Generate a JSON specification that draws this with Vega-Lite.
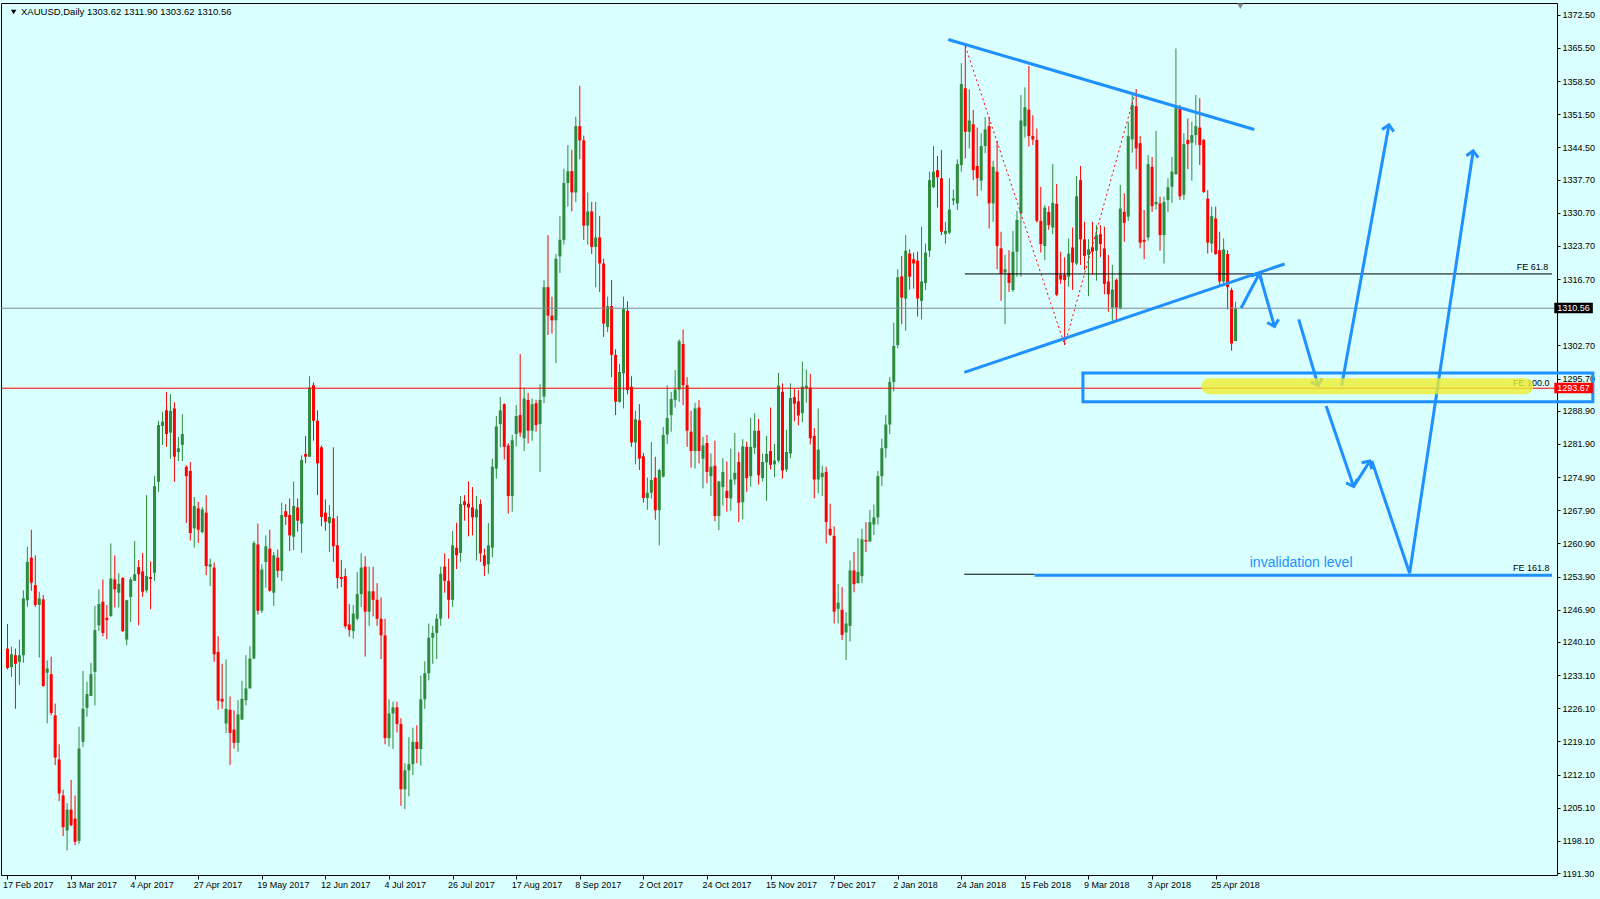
{
"$schema": "https://vega.github.io/schema/vega-lite/v6.json",
"width": 1556, "height": 872,
"autosize": {"type": "none"},
"padding": {"left": 1, "top": 3, "right": 43, "bottom": 24},
"background": "#d9ffff",
"config": {"view": {"stroke": "#000000", "strokeWidth": 1, "fill": "#d9ffff"}, "font": "Liberation Sans",
  "axisX": {"labelAlign": "left", "labelOffset": -5, "labelFontSize": 9, "labelFont": "Liberation Sans", "labelColor": "#000000", "tickColor": "#000000", "tickSize": 4, "domain": false, "grid": false, "labelPadding": 1, "labelFlush": false, "labelOverlap": false, "labelBound": false},
  "axisY": {"labelFontSize": 9, "labelFont": "Liberation Sans", "labelColor": "#000000", "tickColor": "#000000", "tickSize": 3, "domain": false, "grid": false, "labelPadding": 2, "labelOverlap": false, "labelFlush": false}},
"datasets": {
"bars": [
{"i":0,"o":1238.7,"h":1243.9,"l":1234.3,"c":1234.6},{"i":1,"o":1234.8,"h":1239.1,"l":1232.7,"c":1237.5},{"i":2,"o":1237.3,"h":1238.7,"l":1226.0,"c":1235.5},{"i":3,"o":1235.9,"h":1240.6,"l":1231.0,"c":1237.3},{"i":4,"o":1237.3,"h":1251.0,"l":1235.7,"c":1249.3},{"i":5,"o":1248.9,"h":1260.2,"l":1247.5,"c":1257.0},{"i":6,"o":1257.9,"h":1263.8,"l":1250.9,"c":1252.6},{"i":7,"o":1252.1,"h":1258.4,"l":1247.5,"c":1247.9},{"i":8,"o":1247.9,"h":1250.7,"l":1236.8,"c":1249.3},{"i":9,"o":1249.1,"h":1250.0,"l":1230.6,"c":1230.8},
{"i":10,"o":1233.6,"h":1236.2,"l":1222.9,"c":1234.5},{"i":11,"o":1233.3,"h":1237.0,"l":1224.6,"c":1225.1},{"i":12,"o":1224.6,"h":1227.1,"l":1214.1,"c":1215.7},{"i":13,"o":1215.3,"h":1218.5,"l":1206.5,"c":1208.1},{"i":14,"o":1207.7,"h":1208.9,"l":1199.1,"c":1201.0},{"i":15,"o":1200.3,"h":1206.1,"l":1196.1,"c":1204.7},{"i":16,"o":1204.7,"h":1211.0,"l":1201.2,"c":1201.4},{"i":17,"o":1202.8,"h":1207.7,"l":1197.2,"c":1197.9},{"i":18,"o":1198.1,"h":1222.2,"l":1197.5,"c":1217.6},{"i":19,"o":1219.0,"h":1234.0,"l":1217.9,"c":1226.0},
{"i":20,"o":1226.2,"h":1231.7,"l":1224.3,"c":1229.1},{"i":21,"o":1228.7,"h":1235.7,"l":1228.7,"c":1233.3},{"i":22,"o":1233.8,"h":1247.7,"l":1226.7,"c":1242.6},{"i":23,"o":1243.6,"h":1251.2,"l":1242.4,"c":1248.1},{"i":24,"o":1248.6,"h":1253.3,"l":1241.3,"c":1242.0},{"i":25,"o":1245.2,"h":1247.9,"l":1240.7,"c":1244.7},{"i":26,"o":1245.6,"h":1260.9,"l":1245.4,"c":1253.5},{"i":27,"o":1253.3,"h":1258.4,"l":1247.4,"c":1251.2},{"i":28,"o":1250.5,"h":1254.6,"l":1247.4,"c":1252.4},{"i":29,"o":1253.6,"h":1253.8,"l":1242.2,"c":1242.4},
{"i":30,"o":1240.6,"h":1249.0,"l":1239.4,"c":1248.9},{"i":31,"o":1249.6,"h":1253.8,"l":1244.3,"c":1253.3},{"i":32,"o":1253.0,"h":1261.4,"l":1253.0,"c":1254.4},{"i":33,"o":1255.9,"h":1257.4,"l":1243.6,"c":1254.4},{"i":34,"o":1255.0,"h":1258.9,"l":1249.6,"c":1250.7},{"i":35,"o":1251.0,"h":1271.1,"l":1250.5,"c":1254.0},{"i":36,"o":1253.8,"h":1257.1,"l":1247.0,"c":1253.4},{"i":37,"o":1254.7,"h":1275.1,"l":1253.0,"c":1273.0},{"i":38,"o":1273.9,"h":1286.8,"l":1271.8,"c":1285.9},{"i":39,"o":1285.7,"h":1288.7,"l":1281.7,"c":1286.6},
{"i":40,"o":1289.0,"h":1292.9,"l":1281.3,"c":1284.0},{"i":41,"o":1284.3,"h":1292.4,"l":1278.8,"c":1288.9},{"i":42,"o":1289.4,"h":1290.7,"l":1273.9,"c":1279.2},{"i":43,"o":1280.2,"h":1283.4,"l":1278.3,"c":1281.0},{"i":44,"o":1281.7,"h":1288.2,"l":1278.3,"c":1284.0},{"i":45,"o":1277.1,"h":1277.4,"l":1265.2,"c":1275.1},{"i":46,"o":1276.2,"h":1278.1,"l":1261.5,"c":1263.1},{"i":47,"o":1264.1,"h":1270.7,"l":1260.0,"c":1268.8},{"i":48,"o":1268.3,"h":1269.7,"l":1261.0,"c":1263.8},{"i":49,"o":1263.3,"h":1268.6,"l":1263.0,"c":1268.1},
{"i":50,"o":1267.4,"h":1271.1,"l":1254.2,"c":1256.1},{"i":51,"o":1256.0,"h":1257.7,"l":1251.9,"c":1256.5},{"i":52,"o":1255.8,"h":1256.9,"l":1235.9,"c":1237.5},{"i":53,"o":1238.0,"h":1241.3,"l":1225.8,"c":1227.7},{"i":54,"o":1228.1,"h":1235.5,"l":1226.0,"c":1227.5},{"i":55,"o":1222.9,"h":1236.4,"l":1220.9,"c":1226.0},{"i":56,"o":1225.8,"h":1228.6,"l":1214.1,"c":1220.9},{"i":57,"o":1221.6,"h":1225.7,"l":1217.6,"c":1218.8},{"i":58,"o":1218.8,"h":1227.8,"l":1216.9,"c":1224.8},{"i":59,"o":1223.7,"h":1231.9,"l":1223.7,"c":1228.1},
{"i":60,"o":1227.8,"h":1237.3,"l":1226.7,"c":1230.3},{"i":61,"o":1230.3,"h":1239.2,"l":1230.3,"c":1236.6},{"i":62,"o":1236.6,"h":1261.4,"l":1236.5,"c":1261.0},{"i":63,"o":1260.7,"h":1265.1,"l":1245.9,"c":1246.7},{"i":64,"o":1246.7,"h":1256.5,"l":1246.2,"c":1255.4},{"i":65,"o":1257.0,"h":1262.6,"l":1251.6,"c":1260.3},{"i":66,"o":1259.8,"h":1263.8,"l":1250.7,"c":1250.9},{"i":67,"o":1250.5,"h":1259.1,"l":1247.7,"c":1258.4},{"i":68,"o":1257.9,"h":1259.6,"l":1253.7,"c":1255.1},{"i":69,"o":1255.1,"h":1269.5,"l":1253.0,"c":1266.9},
{"i":70,"o":1267.7,"h":1269.2,"l":1264.8,"c":1266.5},{"i":71,"o":1266.9,"h":1270.4,"l":1259.3,"c":1262.6},{"i":72,"o":1262.3,"h":1274.0,"l":1259.5,"c":1268.8},{"i":73,"o":1268.5,"h":1270.4,"l":1263.4,"c":1265.7},{"i":74,"o":1265.1,"h":1279.5,"l":1258.9,"c":1278.5},{"i":75,"o":1279.8,"h":1283.6,"l":1277.8,"c":1279.2},{"i":76,"o":1279.2,"h":1296.2,"l":1279.2,"c":1293.8},{"i":77,"o":1294.3,"h":1294.9,"l":1282.6,"c":1286.8},{"i":78,"o":1286.8,"h":1289.0,"l":1271.1,"c":1277.8},{"i":79,"o":1281.2,"h":1281.6,"l":1264.5,"c":1266.5},
{"i":80,"o":1267.4,"h":1270.2,"l":1263.6,"c":1265.5},{"i":81,"o":1265.2,"h":1269.0,"l":1259.1,"c":1266.5},{"i":82,"o":1266.2,"h":1281.2,"l":1257.0,"c":1260.3},{"i":83,"o":1260.5,"h":1266.7,"l":1251.4,"c":1253.6},{"i":84,"o":1253.8,"h":1257.4,"l":1251.7,"c":1253.4},{"i":85,"o":1254.0,"h":1255.6,"l":1242.9,"c":1243.4},{"i":86,"o":1243.8,"h":1248.1,"l":1241.2,"c":1242.6},{"i":87,"o":1242.4,"h":1247.9,"l":1240.8,"c":1246.1},{"i":88,"o":1245.0,"h":1254.9,"l":1244.7,"c":1250.2},{"i":89,"o":1250.2,"h":1258.8,"l":1247.5,"c":1255.8},
{"i":90,"o":1256.0,"h":1258.2,"l":1237.0,"c":1246.5},{"i":91,"o":1246.5,"h":1256.0,"l":1243.5,"c":1250.8},{"i":92,"o":1250.8,"h":1256.0,"l":1245.5,"c":1249.0},{"i":93,"o":1249.0,"h":1252.5,"l":1243.5,"c":1245.0},{"i":94,"o":1245.0,"h":1249.5,"l":1236.5,"c":1241.5},{"i":95,"o":1241.5,"h":1245.0,"l":1218.5,"c":1219.8},{"i":96,"o":1219.8,"h":1228.0,"l":1218.0,"c":1225.0},{"i":97,"o":1225.0,"h":1227.5,"l":1217.5,"c":1226.3},{"i":98,"o":1226.3,"h":1227.5,"l":1221.0,"c":1222.8},{"i":99,"o":1222.8,"h":1224.0,"l":1205.5,"c":1209.0},
{"i":100,"o":1209.0,"h":1214.5,"l":1204.8,"c":1213.0},{"i":101,"o":1213.0,"h":1220.0,"l":1207.5,"c":1214.3},{"i":102,"o":1214.3,"h":1222.0,"l":1212.0,"c":1219.0},{"i":103,"o":1219.0,"h":1222.5,"l":1214.5,"c":1217.5},{"i":104,"o":1217.5,"h":1233.0,"l":1214.0,"c":1228.0},{"i":105,"o":1228.0,"h":1236.0,"l":1226.0,"c":1233.5},{"i":106,"o":1233.5,"h":1244.0,"l":1232.0,"c":1241.0},{"i":107,"o":1241.0,"h":1243.5,"l":1235.5,"c":1242.0},{"i":108,"o":1242.0,"h":1246.0,"l":1236.5,"c":1245.0},{"i":109,"o":1245.0,"h":1256.0,"l":1243.5,"c":1254.5},
{"i":110,"o":1256.0,"h":1258.8,"l":1250.5,"c":1253.0},{"i":111,"o":1253.0,"h":1257.7,"l":1245.0,"c":1249.0},{"i":112,"o":1249.0,"h":1263.5,"l":1247.5,"c":1260.5},{"i":113,"o":1260.0,"h":1265.3,"l":1255.5,"c":1258.4},{"i":114,"o":1258.9,"h":1270.9,"l":1257.0,"c":1269.2},{"i":115,"o":1269.8,"h":1271.1,"l":1265.7,"c":1269.0},{"i":116,"o":1269.3,"h":1274.0,"l":1262.4,"c":1268.5},{"i":117,"o":1268.5,"h":1272.8,"l":1262.6,"c":1266.4},{"i":118,"o":1266.4,"h":1270.9,"l":1257.3,"c":1268.1},{"i":119,"o":1269.2,"h":1270.2,"l":1257.0,"c":1258.8},
{"i":120,"o":1258.4,"h":1259.8,"l":1254.0,"c":1256.2},{"i":121,"o":1256.5,"h":1265.2,"l":1254.5,"c":1260.5},{"i":122,"o":1260.0,"h":1278.8,"l":1258.0,"c":1277.1},{"i":123,"o":1276.7,"h":1287.8,"l":1274.6,"c":1285.6},{"i":124,"o":1286.1,"h":1291.8,"l":1281.2,"c":1289.0},{"i":125,"o":1290.3,"h":1290.5,"l":1278.6,"c":1281.3},{"i":126,"o":1281.6,"h":1282.1,"l":1267.2,"c":1270.9},{"i":127,"o":1270.9,"h":1283.8,"l":1267.6,"c":1282.7},{"i":128,"o":1284.0,"h":1290.1,"l":1281.4,"c":1287.8},{"i":129,"o":1288.0,"h":1300.9,"l":1283.4,"c":1284.3},
{"i":130,"o":1283.1,"h":1293.8,"l":1280.4,"c":1291.5},{"i":131,"o":1291.2,"h":1292.7,"l":1282.0,"c":1284.7},{"i":132,"o":1284.7,"h":1291.5,"l":1282.6,"c":1290.3},{"i":133,"o":1290.5,"h":1291.2,"l":1284.5,"c":1285.9},{"i":134,"o":1286.1,"h":1294.5,"l":1276.0,"c":1291.2},{"i":135,"o":1291.9,"h":1316.5,"l":1290.5,"c":1315.0},{"i":136,"o":1315.0,"h":1326.0,"l":1304.9,"c":1309.0},{"i":137,"o":1309.0,"h":1313.0,"l":1305.2,"c":1308.0},{"i":138,"o":1308.0,"h":1322.0,"l":1299.0,"c":1321.0},{"i":139,"o":1321.5,"h":1330.0,"l":1318.0,"c":1325.0},
{"i":140,"o":1325.0,"h":1340.0,"l":1324.0,"c":1337.0},{"i":141,"o":1337.0,"h":1345.0,"l":1332.0,"c":1339.5},{"i":142,"o":1339.5,"h":1344.0,"l":1331.0,"c":1335.0},{"i":143,"o":1335.0,"h":1351.0,"l":1333.0,"c":1349.0},{"i":144,"o":1349.0,"h":1357.5,"l":1342.0,"c":1346.0},{"i":145,"o":1346.0,"h":1347.0,"l":1325.0,"c":1328.0},{"i":146,"o":1328.0,"h":1335.0,"l":1324.0,"c":1331.0},{"i":147,"o":1331.0,"h":1333.0,"l":1322.0,"c":1323.5},{"i":148,"o":1323.5,"h":1333.0,"l":1315.0,"c":1325.5},{"i":149,"o":1325.5,"h":1330.0,"l":1314.0,"c":1320.0},
{"i":150,"o":1320.0,"h":1321.0,"l":1304.5,"c":1307.3},{"i":151,"o":1306.6,"h":1313.0,"l":1305.5,"c":1311.0},{"i":152,"o":1311.0,"h":1316.5,"l":1296.0,"c":1300.7},{"i":153,"o":1300.7,"h":1301.9,"l":1288.0,"c":1290.8},{"i":154,"o":1290.8,"h":1298.8,"l":1290.6,"c":1297.1},{"i":155,"o":1296.8,"h":1313.0,"l":1289.4,"c":1310.5},{"i":156,"o":1310.0,"h":1312.0,"l":1292.4,"c":1293.3},{"i":157,"o":1294.0,"h":1296.2,"l":1281.3,"c":1282.2},{"i":158,"o":1282.2,"h":1288.9,"l":1277.6,"c":1287.1},{"i":159,"o":1286.9,"h":1290.3,"l":1276.4,"c":1278.8},
{"i":160,"o":1279.3,"h":1280.0,"l":1269.5,"c":1270.5},{"i":161,"o":1270.5,"h":1274.8,"l":1268.0,"c":1271.6},{"i":162,"o":1271.6,"h":1282.3,"l":1270.4,"c":1274.3},{"i":163,"o":1274.8,"h":1279.2,"l":1265.9,"c":1267.9},{"i":164,"o":1267.9,"h":1276.7,"l":1260.5,"c":1276.4},{"i":165,"o":1275.0,"h":1285.5,"l":1274.8,"c":1283.8},{"i":166,"o":1283.9,"h":1294.3,"l":1281.9,"c":1287.4},{"i":167,"o":1288.0,"h":1292.9,"l":1284.5,"c":1291.4},{"i":168,"o":1291.2,"h":1297.5,"l":1289.6,"c":1293.4},{"i":169,"o":1293.4,"h":1304.0,"l":1290.8,"c":1303.6},
{"i":170,"o":1303.0,"h":1306.1,"l":1290.1,"c":1294.3},{"i":171,"o":1294.3,"h":1296.0,"l":1281.3,"c":1284.7},{"i":172,"o":1284.5,"h":1288.9,"l":1276.9,"c":1280.4},{"i":173,"o":1280.4,"h":1290.6,"l":1276.7,"c":1289.4},{"i":174,"o":1289.6,"h":1291.2,"l":1277.8,"c":1280.4},{"i":175,"o":1278.8,"h":1283.4,"l":1272.5,"c":1281.6},{"i":176,"o":1282.1,"h":1283.8,"l":1273.6,"c":1276.0},{"i":177,"o":1275.1,"h":1279.9,"l":1270.9,"c":1277.1},{"i":178,"o":1277.3,"h":1282.6,"l":1265.6,"c":1266.7},{"i":179,"o":1266.7,"h":1274.1,"l":1263.7,"c":1274.0},
{"i":180,"o":1272.8,"h":1278.9,"l":1268.9,"c":1276.0},{"i":181,"o":1272.0,"h":1278.2,"l":1267.6,"c":1270.5},{"i":182,"o":1270.4,"h":1280.9,"l":1267.8,"c":1274.4},{"i":183,"o":1274.4,"h":1284.2,"l":1273.3,"c":1275.8},{"i":184,"o":1278.1,"h":1280.2,"l":1265.4,"c":1269.5},{"i":185,"o":1269.6,"h":1282.9,"l":1266.0,"c":1281.4},{"i":186,"o":1281.3,"h":1282.4,"l":1271.8,"c":1274.7},{"i":187,"o":1275.1,"h":1287.4,"l":1272.9,"c":1281.3},{"i":188,"o":1281.1,"h":1288.4,"l":1279.8,"c":1284.7},{"i":189,"o":1284.7,"h":1287.2,"l":1273.3,"c":1275.3},
{"i":190,"o":1274.7,"h":1279.9,"l":1274.0,"c":1278.1},{"i":191,"o":1278.0,"h":1283.6,"l":1269.9,"c":1279.8},{"i":192,"o":1280.4,"h":1289.6,"l":1276.5,"c":1277.5},{"i":193,"o":1277.6,"h":1281.9,"l":1274.9,"c":1278.4},{"i":194,"o":1278.4,"h":1296.9,"l":1278.0,"c":1294.2},{"i":195,"o":1292.9,"h":1294.7,"l":1274.6,"c":1276.3},{"i":196,"o":1276.5,"h":1284.9,"l":1276.0,"c":1280.2},{"i":197,"o":1279.9,"h":1294.7,"l":1278.9,"c":1291.6},{"i":198,"o":1291.8,"h":1293.6,"l":1286.7,"c":1290.4},{"i":199,"o":1290.9,"h":1293.3,"l":1285.8,"c":1287.9},
{"i":200,"o":1288.4,"h":1299.3,"l":1286.5,"c":1294.0},{"i":201,"o":1293.6,"h":1297.6,"l":1290.6,"c":1294.2},{"i":202,"o":1293.8,"h":1296.7,"l":1281.8,"c":1283.1},{"i":203,"o":1283.6,"h":1285.3,"l":1270.4,"c":1274.4},{"i":204,"o":1274.4,"h":1289.4,"l":1271.5,"c":1280.7},{"i":205,"o":1274.9,"h":1277.3,"l":1270.9,"c":1275.8},{"i":206,"o":1276.0,"h":1277.1,"l":1260.9,"c":1265.4},{"i":207,"o":1264.0,"h":1269.3,"l":1262.5,"c":1262.7},{"i":208,"o":1262.5,"h":1264.5,"l":1244.0,"c":1246.5},{"i":209,"o":1247.1,"h":1252.3,"l":1244.0,"c":1248.4},
{"i":210,"o":1246.9,"h":1251.7,"l":1240.5,"c":1241.6},{"i":211,"o":1242.1,"h":1246.4,"l":1236.3,"c":1244.0},{"i":212,"o":1243.5,"h":1257.3,"l":1240.2,"c":1255.2},{"i":213,"o":1255.2,"h":1259.1,"l":1250.6,"c":1252.3},{"i":214,"o":1252.5,"h":1262.0,"l":1252.5,"c":1254.9},{"i":215,"o":1254.0,"h":1264.0,"l":1252.5,"c":1261.8},{"i":216,"o":1261.6,"h":1265.4,"l":1259.1,"c":1261.3},{"i":217,"o":1261.3,"h":1268.0,"l":1261.3,"c":1265.4},{"i":218,"o":1264.9,"h":1269.1,"l":1262.7,"c":1266.4},{"i":219,"o":1266.4,"h":1276.2,"l":1264.9,"c":1275.1},
{"i":220,"o":1275.1,"h":1283.0,"l":1273.0,"c":1281.0},{"i":221,"o":1281.0,"h":1288.0,"l":1279.0,"c":1286.0},{"i":222,"o":1286.0,"h":1296.0,"l":1284.0,"c":1295.0},{"i":223,"o":1295.0,"h":1307.5,"l":1293.0,"c":1302.6},{"i":224,"o":1302.8,"h":1318.8,"l":1302.1,"c":1317.1},{"i":225,"o":1317.3,"h":1321.6,"l":1307.2,"c":1312.8},{"i":226,"o":1312.6,"h":1326.0,"l":1305.8,"c":1322.7},{"i":227,"o":1322.1,"h":1323.0,"l":1314.5,"c":1317.2},{"i":228,"o":1320.9,"h":1322.3,"l":1314.7,"c":1320.0},{"i":229,"o":1320.6,"h":1322.5,"l":1308.8,"c":1312.6},
{"i":230,"o":1312.1,"h":1327.8,"l":1308.2,"c":1316.2},{"i":231,"o":1315.9,"h":1324.2,"l":1314.4,"c":1322.3},{"i":232,"o":1322.7,"h":1339.4,"l":1321.4,"c":1337.6},{"i":233,"o":1336.1,"h":1344.8,"l":1335.9,"c":1339.4},{"i":234,"o":1339.7,"h":1342.7,"l":1331.8,"c":1338.2},{"i":235,"o":1338.0,"h":1344.0,"l":1326.0,"c":1326.7},{"i":236,"o":1326.2,"h":1328.8,"l":1324.2,"c":1326.9},{"i":237,"o":1326.5,"h":1338.0,"l":1326.2,"c":1331.4},{"i":238,"o":1333.3,"h":1335.6,"l":1332.3,"c":1333.7},{"i":239,"o":1332.7,"h":1342.0,"l":1331.3,"c":1341.0},
{"i":240,"o":1340.8,"h":1362.3,"l":1339.4,"c":1357.9},{"i":241,"o":1357.0,"h":1365.9,"l":1342.2,"c":1347.8},{"i":242,"o":1347.8,"h":1356.8,"l":1344.3,"c":1350.2},{"i":243,"o":1349.4,"h":1352.4,"l":1337.6,"c":1339.7},{"i":244,"o":1340.6,"h":1348.7,"l":1334.2,"c":1338.0},{"i":245,"o":1337.5,"h":1347.5,"l":1335.4,"c":1344.8},{"i":246,"o":1344.8,"h":1350.9,"l":1343.3,"c":1348.3},{"i":247,"o":1349.0,"h":1351.0,"l":1327.4,"c":1332.7},{"i":248,"o":1332.7,"h":1341.7,"l":1328.8,"c":1340.4},{"i":249,"o":1339.4,"h":1345.9,"l":1318.8,"c":1323.7},
{"i":250,"o":1323.2,"h":1326.7,"l":1312.1,"c":1317.8},{"i":251,"o":1318.1,"h":1321.8,"l":1307.2,"c":1318.8},{"i":252,"o":1317.9,"h":1322.8,"l":1314.0,"c":1315.9},{"i":253,"o":1314.4,"h":1326.9,"l":1314.0,"c":1322.5},{"i":254,"o":1322.5,"h":1331.1,"l":1317.2,"c":1329.2},{"i":255,"o":1330.6,"h":1355.6,"l":1317.2,"c":1350.2},{"i":256,"o":1349.0,"h":1357.2,"l":1346.6,"c":1353.0},{"i":257,"o":1352.5,"h":1361.7,"l":1344.7,"c":1346.9},{"i":258,"o":1346.9,"h":1351.3,"l":1345.0,"c":1346.2},{"i":259,"o":1346.1,"h":1348.5,"l":1328.6,"c":1329.0},
{"i":260,"o":1329.0,"h":1336.2,"l":1322.3,"c":1324.1},{"i":261,"o":1323.7,"h":1332.3,"l":1320.7,"c":1331.8},{"i":262,"o":1330.9,"h":1332.1,"l":1327.1,"c":1328.1},{"i":263,"o":1327.6,"h":1341.0,"l":1326.2,"c":1332.8},{"i":264,"o":1332.6,"h":1336.8,"l":1313.1,"c":1313.4},{"i":265,"o":1317.6,"h":1322.5,"l":1315.7,"c":1316.6},{"i":266,"o":1317.6,"h":1321.3,"l":1302.8,"c":1316.5},{"i":267,"o":1317.2,"h":1325.3,"l":1315.1,"c":1322.1},{"i":268,"o":1323.4,"h":1327.6,"l":1314.4,"c":1320.2},{"i":269,"o":1320.0,"h":1338.5,"l":1319.7,"c":1334.2},
{"i":270,"o":1337.6,"h":1340.6,"l":1319.7,"c":1325.1},{"i":271,"o":1325.1,"h":1328.8,"l":1318.6,"c":1321.6},{"i":272,"o":1321.8,"h":1325.1,"l":1313.1,"c":1323.0},{"i":273,"o":1323.4,"h":1328.8,"l":1317.6,"c":1322.5},{"i":274,"o":1322.7,"h":1328.1,"l":1316.4,"c":1326.0},{"i":275,"o":1326.2,"h":1328.1,"l":1321.4,"c":1324.1},{"i":276,"o":1323.2,"h":1327.8,"l":1313.5,"c":1315.7},{"i":277,"o":1316.2,"h":1321.8,"l":1309.8,"c":1313.5},{"i":278,"o":1310.7,"h":1319.7,"l":1307.9,"c":1314.5},{"i":279,"o":1316.5,"h":1316.9,"l":1308.0,"c":1310.7},
{"i":280,"o":1310.5,"h":1336.6,"l":1310.3,"c":1331.6},{"i":281,"o":1330.9,"h":1334.8,"l":1324.6,"c":1328.6},{"i":282,"o":1329.9,"h":1349.9,"l":1329.0,"c":1346.9},{"i":283,"o":1346.2,"h":1355.9,"l":1343.4,"c":1353.5},{"i":284,"o":1353.2,"h":1356.8,"l":1339.9,"c":1344.3},{"i":285,"o":1345.4,"h":1346.9,"l":1323.2,"c":1324.4},{"i":286,"o":1325.0,"h":1331.3,"l":1320.9,"c":1324.6},{"i":287,"o":1325.5,"h":1342.9,"l":1324.8,"c":1341.0},{"i":288,"o":1340.4,"h":1342.5,"l":1330.9,"c":1332.1},{"i":289,"o":1332.5,"h":1348.0,"l":1331.4,"c":1333.0},
{"i":290,"o":1332.7,"h":1334.1,"l":1322.7,"c":1326.0},{"i":291,"o":1326.0,"h":1334.1,"l":1320.0,"c":1333.0},{"i":292,"o":1333.4,"h":1338.0,"l":1330.9,"c":1336.1},{"i":293,"o":1336.2,"h":1342.5,"l":1332.8,"c":1339.4},{"i":294,"o":1338.9,"h":1365.4,"l":1338.7,"c":1353.1},{"i":295,"o":1352.8,"h":1353.5,"l":1333.4,"c":1334.2},{"i":296,"o":1334.5,"h":1347.5,"l":1333.4,"c":1345.2},{"i":297,"o":1346.1,"h":1350.6,"l":1339.9,"c":1345.2},{"i":298,"o":1345.5,"h":1349.9,"l":1337.5,"c":1347.1},{"i":299,"o":1347.1,"h":1355.6,"l":1345.0,"c":1349.0},
{"i":300,"o":1348.7,"h":1354.9,"l":1340.8,"c":1345.0},{"i":301,"o":1346.1,"h":1346.3,"l":1334.9,"c":1335.1},{"i":302,"o":1333.7,"h":1335.5,"l":1322.1,"c":1324.4},{"i":303,"o":1324.2,"h":1332.0,"l":1322.3,"c":1330.0},{"i":304,"o":1329.5,"h":1332.0,"l":1321.8,"c":1322.0},{"i":305,"o":1322.8,"h":1326.7,"l":1315.1,"c":1316.2},{"i":306,"o":1316.2,"h":1325.3,"l":1315.8,"c":1323.0},{"i":307,"o":1322.0,"h":1322.8,"l":1310.3,"c":1315.0},{"i":308,"o":1314.4,"h":1314.9,"l":1301.6,"c":1303.1},{"i":309,"o":1303.62,"h":1311.9,"l":1303.62,"c":1310.56}
],
"segs": [
{"k":"trend","x1":236.7,"y1":1367.3,"x2":313.7,"y2":1348.3,"head":0},
{"k":"trend","x1":240.75,"y1":1297.0,"x2":321.35,"y2":1319.9,"head":0},
{"k":"trend","x1":258.4,"y1":1254.2,"x2":388.625,"y2":1254.2,"head":0},
{"k":"fe","x1":240.9,"y1":1317.8,"x2":388.625,"y2":1317.8,"head":0},
{"k":"fe","x1":240.75,"y1":1254.4,"x2":258.4,"y2":1254.4,"head":0},
{"k":"zig","x1":241,"y1":1365.9,"x2":266,"y2":1302.8,"head":0},
{"k":"zig","x1":266,"y1":1302.8,"x2":284,"y2":1356.8,"head":0},
{"k":"arrow","x1":310.4,"y1":1310.6,"x2":315.0,"y2":1317.9,"head":1},
{"k":"arrow","x1":315.0,"y1":1317.9,"x2":318.8,"y2":1306.7,"head":1},
{"k":"arrow","x1":324.9,"y1":1308.2,"x2":329.8,"y2":1294.2,"head":1},
{"k":"arrow","x1":335.7,"y1":1294.2,"x2":347.6,"y2":1349.3,"head":1},
{"k":"arrow","x1":331.8,"y1":1289.9,"x2":338.7,"y2":1272.9,"head":1},
{"k":"arrow","x1":338.7,"y1":1272.9,"x2":342.8,"y2":1278.3,"head":1},
{"k":"arrow","x1":343.3,"y1":1278.3,"x2":352.8,"y2":1254.6,"head":0},
{"k":"arrow","x1":352.8,"y1":1254.6,"x2":368.8,"y2":1343.8,"head":1}
]
},
"encoding": {
  "x": {"type": "quantitative", "scale": {"domain": [-0.375, 388.625], "nice": false, "zero": false},
        "axis": {"values": [0,16,32,48,64,80,96,112,128,144,160,176,192,208,224,240,256,272,288,304],
                 "labelExpr": "['17 Feb 2017','13 Mar 2017','4 Apr 2017','27 Apr 2017','19 May 2017','12 Jun 2017','4 Jul 2017','26 Jul 2017','17 Aug 2017','8 Sep 2017','2 Oct 2017','24 Oct 2017','15 Nov 2017','7 Dec 2017','2 Jan 2018','24 Jan 2018','15 Feb 2018','9 Mar 2018','3 Apr 2018','25 Apr 2018'][round(datum.value/16)]",
                 "title": null}},
  "y": {"type": "quantitative", "scale": {"domain": [1190.9, 1375.0], "nice": false, "zero": false},
        "axis": {"orient": "right", "values": [1372.5,1365.5,1358.5,1351.5,1344.5,1337.7,1330.7,1323.7,1316.7,1309.7,1302.7,1295.7,1288.9,1281.9,1274.9,1267.9,1260.9,1253.9,1246.9,1240.1,1233.1,1226.1,1219.1,1212.1,1205.1,1198.1,1191.3],
                 "labelExpr": "abs(datum.value - 1309.7) < 0.01 ? '' : format(datum.value, '.2f')", "title": null}}
},
"layer": [
{"data": {"name": "bars"},
 "mark": {"type": "rule", "strokeWidth": 1},
 "encoding": {
  "x": {"field": "i"},
  "y": {"field": "l"},
  "y2": {"field": "h"},
  "color": {"condition": {"test": "datum.c >= datum.o", "value": "#2e8b3d"}, "value": "#ff0000"}
 }},
{"data": {"name": "bars"},
 "mark": {"type": "bar", "size": 3},
 "encoding": {
  "x": {"field": "i"},
  "y": {"field": "o"},
  "y2": {"field": "c"},
  "color": {"condition": {"test": "datum.c >= datum.o", "value": "#2e8b3d"}, "value": "#ff0000"}
 }},
{"data": {"values": [{"p": 1293.67}]},
 "mark": {"type": "rule", "color": "#ff0000", "strokeWidth": 1},
 "encoding": {"x": null, "y": {"field": "p"}}},
{"data": {"values": [{"p": 1310.56}]},
 "mark": {"type": "rule", "color": "#7f8894", "strokeWidth": 1},
 "encoding": {"x": null, "y": {"field": "p"}}},
{"data": {"name": "segs"}, "transform": [{"filter": "datum.k == 'fe'"}],
 "mark": {"type": "rule", "color": "#000000", "strokeWidth": 1},
 "encoding": {"x": {"field": "x1"}, "y": {"field": "y1"}, "x2": {"field": "x2"}, "y2": {"field": "y2"}}},
{"data": {"name": "segs"}, "transform": [{"filter": "datum.k == 'zig'"}],
 "mark": {"type": "rule", "color": "#ff0000", "strokeWidth": 1, "strokeDash": [2, 3]},
 "encoding": {"x": {"field": "x1"}, "y": {"field": "y1"}, "x2": {"field": "x2"}, "y2": {"field": "y2"}}},
{"data": {"values": [{"x1": 270.6, "x2": 398.9, "y1": 1296.9, "y2": 1290.8}]},
 "mark": {"type": "rect", "fillOpacity": 0, "stroke": "#1e90ff", "strokeWidth": 3, "clip": false},
 "encoding": {"x": {"field": "x1"}, "y": {"field": "y1"}, "x2": {"field": "x2"}, "y2": {"field": "y2"}}},
{"data": {"name": "segs"}, "transform": [{"filter": "datum.k == 'trend' || datum.k == 'arrow'"}],
 "mark": {"type": "rule", "color": "#1e90ff", "strokeWidth": 3},
 "encoding": {"x": {"field": "x1"}, "y": {"field": "y1"}, "x2": {"field": "x2"}, "y2": {"field": "y2"}}},
{"data": {"name": "segs"},
 "transform": [{"filter": "datum.head == 1"}, {"calculate": "atan2(4*(datum.x2-datum.x1), 4.7366*(datum.y2-datum.y1))*180/PI", "as": "ang"}],
 "mark": {"type": "point", "shape": "M-1,1L0,0L1,1", "filled": false, "color": "#1e90ff", "strokeWidth": 3, "size": 140, "opacity": 1},
 "encoding": {"x": {"field": "x2"}, "y": {"field": "y2"}, "angle": {"field": "ang", "type": "quantitative", "scale": null}}},
{"data": {"values": [{"t": "FE 61.8", "x": 387.7, "y": 1319.2}, {"t": "FE 100.0", "x": 388.0, "y": 1294.7}, {"t": "FE 161.8", "x": 388.0, "y": 1255.8}]},
 "mark": {"type": "text", "align": "right", "baseline": "middle", "fontSize": 9, "font": "Liberation Sans", "color": "#000000"},
 "encoding": {"x": {"field": "x"}, "y": {"field": "y"}, "text": {"field": "t"}}},
{"data": {"values": [{"x1": 302.4, "x2": 381.9, "y": 1294.1}]},
 "mark": {"type": "rule", "color": "#eeee30", "strokeWidth": 16, "strokeCap": "round", "opacity": 0.8},
 "encoding": {"x": {"field": "x1"}, "y": {"field": "y"}, "x2": {"field": "x2"}}},
{"data": {"values": [{"t": "invalidation level", "x": 325.5, "y": 1256.7}]},
 "mark": {"type": "text", "align": "center", "baseline": "middle", "fontSize": 14, "font": "Liberation Sans", "color": "#1e90ff"},
 "encoding": {"x": {"field": "x"}, "y": {"field": "y"}, "text": {"field": "t"}}},
{"data": {"values": [{"t": "XAUUSD,Daily  1303.62 1311.90 1303.62 1310.56", "x": 3.4, "y": 1373.1}]},
 "mark": {"type": "text", "align": "left", "baseline": "middle", "fontSize": 9.5, "font": "Liberation Sans", "color": "#000000"},
 "encoding": {"x": {"field": "x"}, "y": {"field": "y"}, "text": {"field": "t"}}},
{"data": {"values": [{"x": 1.55, "y": 1373.1}]},
 "mark": {"type": "point", "shape": "triangle-down", "filled": true, "size": 30, "opacity": 1, "color": "#000000"},
 "encoding": {"x": {"field": "x"}, "y": {"field": "y"}}},
{"data": {"values": [{"x": 310.2, "y": 1374.3}]},
 "mark": {"type": "point", "shape": "triangle-down", "filled": true, "size": 40, "opacity": 1, "color": "#8a8a8a", "clip": false},
 "encoding": {"x": {"field": "x"}, "y": {"field": "y"}}},
{"data": {"values": [{"x1": 389.2, "x2": 398.9, "y1": 1311.73, "y2": 1309.49}]},
 "mark": {"type": "rect", "clip": false, "color": "#000000"},
 "encoding": {"x": {"field": "x1"}, "y": {"field": "y1"}, "x2": {"field": "x2"}, "y2": {"field": "y2"}}},
{"data": {"values": [{"x1": 389.2, "x2": 398.9, "y1": 1294.84, "y2": 1292.6}]},
 "mark": {"type": "rect", "clip": false, "color": "#ff0000"},
 "encoding": {"x": {"field": "x1"}, "y": {"field": "y1"}, "x2": {"field": "x2"}, "y2": {"field": "y2"}}},
{"data": {"values": [{"t": "1310.56", "x": 394.05, "p": 1310.56}, {"t": "1293.67", "x": 394.05, "p": 1293.67}]},
 "mark": {"type": "text", "align": "center", "baseline": "middle", "fontSize": 9, "font": "Liberation Sans", "color": "#ffffff", "clip": false},
 "encoding": {"x": {"field": "x"}, "y": {"field": "p"}, "text": {"field": "t"}}}
]
}
